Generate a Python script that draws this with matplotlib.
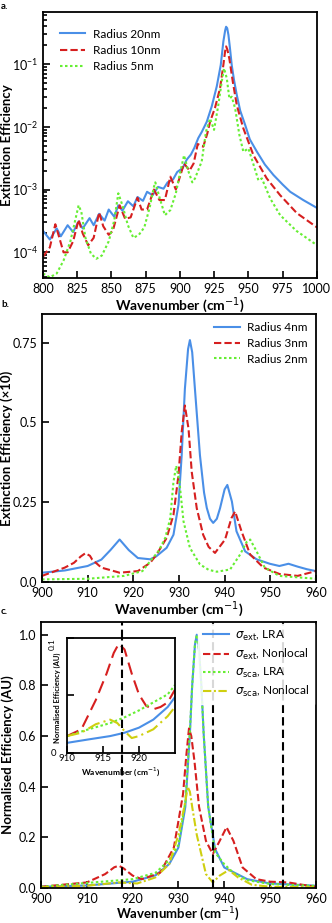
import matplotlib
matplotlib.use("Agg")
import matplotlib.pyplot as plt

plt.rcParams['font.family'] = ['Lato', 'DejaVu Sans']
plt.rcParams['mathtext.fontset'] = 'dejavusans'

BLUE = '#4a8fe7'
RED = '#d61f1f'
GREEN = '#66ee33'
YELLOW = '#cfcf10'

# ---- panel a: extinction efficiency, log scale ----
a_x20 = [800, 805, 810, 813, 818, 822, 826, 829, 834, 837, 841, 845, 848, 852, 855, 858,
         862, 866, 869, 873, 876, 880, 884, 888, 891, 895, 898, 902, 905, 908, 910.5, 913.4,
         916, 919.6, 923.2, 926.9, 929.8, 931.7, 933, 933.7, 934.5, 935.4, 936.5, 937.8,
         939.5, 941.5, 944, 947.6, 951, 956.2, 962, 968.3, 975, 980.5, 990, 1000]
a_r20 = [2.2e-4, 1.6e-4, 2.4e-4, 1.8e-4, 2.7e-4, 2.1e-4, 3.1e-4, 2.4e-4, 3.5e-4, 2.7e-4,
         4.1e-4, 3.2e-4, 4.8e-4, 3.7e-4, 5.6e-4, 4.6e-4, 6.5e-4, 5.4e-4, 7.6e-4, 6.6e-4,
         9.2e-4, 8.1e-4, 1.1e-3, 1.03e-3, 1.3e-3, 1.45e-3, 1.9e-3, 2.2e-3, 3.0e-3, 3.6e-3,
         4.6e-3, 6.6e-3, 8.3e-3, 1.2e-2, 2.1e-2, 4.4e-2, 9.6e-2, 0.227, 0.34, 0.39, 0.37,
         0.29, 0.18, 0.096, 0.055, 0.032, 0.018, 0.0107, 6.3e-3, 4.0e-3, 2.5e-3, 1.7e-3,
         1.2e-3, 9.2e-4, 6.8e-4, 5.1e-4]

a_x10 = [800, 805, 809, 811, 815, 818, 822, 826, 829, 833, 837, 841, 844, 848, 851, 856,
         860, 864, 869, 872, 876, 881, 885, 889, 893, 897, 900, 903, 907, 910, 913, 917,
         920, 922, 925.6, 929.3, 931.7, 933, 933.7, 934.6, 936.1, 938.6, 941.5, 946.3,
         953.7, 963.4, 973.2, 985.4, 1000]
a_r10 = [8.5e-5, 1.2e-4, 2.8e-4, 2.0e-4, 1.0e-4, 1.0e-4, 1.5e-4, 3.3e-4, 2.0e-4, 1.3e-4,
         1.7e-4, 4.3e-4, 2.6e-4, 1.9e-4, 2.2e-4, 5.6e-4, 3.4e-4, 3.6e-4, 7.4e-4, 4.8e-4,
         4.8e-4, 1.0e-3, 6.8e-4, 6.8e-4, 1.6e-3, 1.0e-3, 1.6e-3, 2.6e-3, 2.0e-3, 2.6e-3,
         5.3e-3, 4.8e-3, 7.8e-3, 1.2e-2, 2.0e-2, 4.1e-2, 9.6e-2, 0.16, 0.19, 0.17, 0.12,
         0.052, 0.022, 9.4e-3, 3.5e-3, 1.5e-3, 8.1e-4, 4.2e-4, 2.5e-4]

a_x5 = [800, 805, 810, 815, 820, 824, 826, 828, 831, 835, 839, 843, 848, 852, 855, 858,
        862, 866, 870, 874, 878, 881, 882, 885, 889, 893, 897, 900, 903, 906, 909, 911,
        915.9, 919, 922, 924.9, 928, 930.5, 932.2, 934.2, 936.1, 937.8, 940.3, 943.4,
        946.3, 950, 953.7, 957.3, 959.8, 965.9, 973.2, 985, 1000]
a_r5 = [4.6e-5, 4.0e-5, 4.6e-5, 7.4e-5, 1.5e-4, 3.6e-4, 5.6e-4, 4.4e-4, 1.7e-4, 9.5e-5,
        7.9e-5, 8.9e-5, 1.5e-4, 3.2e-4, 8.7e-4, 5.6e-4, 2.7e-4, 1.7e-4, 1.9e-4, 2.5e-4,
        5.3e-4, 1.1e-3, 1.3e-3, 7.6e-4, 3.9e-4, 4.7e-4, 8.7e-4, 1.8e-3, 3.5e-3, 2.0e-3,
        1.3e-3, 1.5e-3, 2.8e-3, 8.3e-3, 1.35e-2, 8.9e-3, 2.2e-2, 5.2e-2, 8.5e-2, 5.9e-2,
        2.8e-2, 3.0e-2, 1.96e-2, 7.4e-3, 4.0e-3, 4.5e-3, 2.5e-3, 1.4e-3, 1.5e-3, 7.2e-4,
        3.9e-4, 2.2e-4, 1.3e-4]

# ---- panel b: extinction efficiency (x10), linear ----
b_x4 = [900, 905, 910, 913, 915, 917, 919, 921, 923.7, 925, 927.3, 928.8, 929.9, 930.6,
        931.3, 932, 932.4, 932.9, 933.5, 934.6, 935.5, 936.1, 936.8, 937.5, 938.3, 939,
        940, 940.6, 941.6, 942.6, 944.5, 947, 949.9, 952, 954, 956, 958, 960]
b_r4 = [0.029, 0.036, 0.05, 0.07, 0.10, 0.133, 0.10, 0.075, 0.071, 0.08, 0.107, 0.148,
        0.242, 0.397, 0.605, 0.73, 0.758, 0.72, 0.605, 0.397, 0.28, 0.232, 0.198, 0.185,
        0.198, 0.231, 0.29, 0.304, 0.252, 0.159, 0.096, 0.071, 0.057, 0.05, 0.057, 0.048,
        0.04, 0.034]

b_x3 = [900, 905, 907, 908.5, 909.5, 910.5, 911, 913, 917, 921, 923.7, 925.1, 927.3, 928.8,
        929.9, 930.6, 931.3, 932.1, 932.8, 933.9, 935.3, 936.5, 937.9, 940.1, 941.5, 942.3,
        943.7, 945.6, 948.5, 952, 956, 960]
b_r3 = [0.019, 0.045, 0.06, 0.08, 0.09, 0.082, 0.07, 0.045, 0.029, 0.034, 0.06, 0.086,
        0.138, 0.21, 0.335, 0.47, 0.553, 0.48, 0.345, 0.231, 0.148, 0.11, 0.091, 0.133,
        0.2, 0.221, 0.159, 0.086, 0.045, 0.025, 0.019, 0.034]

b_x2 = [900, 910, 918, 922, 923.7, 925.5, 927, 928.1, 928.8, 929.4, 930.1, 931, 932.4,
        934.6, 936.5, 938.3, 941.2, 943.4, 944.8, 945.6, 947, 948.8, 952, 960]
b_r2 = [0.008, 0.010, 0.019, 0.034, 0.065, 0.096, 0.138, 0.20, 0.314, 0.364, 0.314, 0.19,
        0.107, 0.055, 0.038, 0.032, 0.039, 0.086, 0.125, 0.133, 0.096, 0.045, 0.019, 0.010]

# ---- panel c: normalised efficiency ----
c_x_ext_lra = [900, 910, 920, 925, 928, 930, 931.5, 932.5, 933, 933.6, 934, 934.4, 935,
               935.5, 936.5, 938, 940, 945, 950, 960]
c_ext_lra = [0.005, 0.01, 0.025, 0.05, 0.095, 0.16, 0.32, 0.61, 0.80, 0.96, 1.0, 0.96,
             0.80, 0.61, 0.32, 0.154, 0.081, 0.035, 0.018, 0.009]

c_x_ext_nl = [900, 910, 914, 916, 917, 918, 920, 922, 926, 929, 931, 931.7, 932.3, 932.8,
              933.5, 934.5, 936, 937.5, 939, 940.5, 942, 944, 947, 950, 954, 957, 960]
c_ext_nl = [0.005, 0.022, 0.055, 0.082, 0.088, 0.078, 0.049, 0.035, 0.06, 0.16, 0.37, 0.52,
            0.63, 0.60, 0.50, 0.32, 0.186, 0.134, 0.186, 0.24, 0.186, 0.081, 0.035, 0.025,
            0.022, 0.013, 0.005]

c_x_sca_lra = [900, 920, 925, 928, 930, 931.5, 932.5, 933, 933.6, 934, 934.4, 935, 935.5,
               936.5, 938, 940, 942, 945, 950, 960]
c_sca_lra = [0.005, 0.035, 0.06, 0.11, 0.17, 0.34, 0.62, 0.80, 0.96, 1.0, 0.96, 0.80, 0.61,
             0.32, 0.14, 0.094, 0.06, 0.031, 0.016, 0.008]

c_x_sca_nl = [900, 910, 917, 921, 925, 928, 930, 931.5, 932, 932.5, 933, 934, 936, 937.5,
              939, 941, 943, 946, 950, 960]
c_sca_nl = [0.003, 0.009, 0.022, 0.018, 0.042, 0.095, 0.21, 0.34, 0.40, 0.38, 0.32, 0.21,
            0.055, 0.022, 0.049, 0.071, 0.042, 0.013, 0.005, 0.003]

c_vlines = [917.6, 937.6, 952.9]

# inset of panel c
i_x = [910, 912, 914, 915.5, 916.5, 917.2, 918, 919, 920, 921, 922, 923, 924, 925]
i_ext_nl = [0.0147, 0.0206, 0.046, 0.069, 0.087, 0.095, 0.090, 0.069, 0.051, 0.041, 0.038,
            0.040, 0.044, 0.055]
i_x2 = [910, 913, 916, 918, 920, 922, 924, 925]
i_sca_lra = [0.0147, 0.0206, 0.026, 0.031, 0.037, 0.044, 0.051, 0.059]
i_ext_lra = [0.0088, 0.0118, 0.0147, 0.0176, 0.022, 0.029, 0.040, 0.0485]
i_x3 = [910, 912, 914, 916, 917, 918, 919, 920, 922, 924, 925]
i_sca_nl = [0.0147, 0.0176, 0.025, 0.029, 0.026, 0.019, 0.013, 0.0147, 0.0206, 0.032, 0.040]

fig = plt.figure(figsize=(3.32, 9.23), dpi=100)

def style(ax):
    for s in ax.spines.values():
        s.set_linewidth(1.3)
    ax.tick_params(which='both', direction='in', labelsize=9, width=1.2)
    ax.tick_params(which='major', length=5)
    ax.tick_params(which='minor', length=3)

lw = 1.5
DASH = (0, (3.5, 1.5))
DOT = (0, (1.2, 1.2))

# panel a
ax1 = fig.add_axes([0.1295, 0.6988, 0.825, 0.2882])
ax1.plot(a_x20, a_r20, color=BLUE, lw=lw, label='Radius 20nm')
ax1.plot(a_x10, a_r10, color=RED, lw=lw, ls=DASH, label='Radius 10nm')
ax1.plot(a_x5, a_r5, color=GREEN, lw=lw, ls=DOT, label='Radius 5nm')
ax1.set_yscale('log')
ax1.set_xlim(800, 1000)
ax1.set_ylim(3.9e-5, 0.67)
ax1.set_xticks([800, 825, 850, 875, 900, 925, 950, 975, 1000])
ax1.set_xlabel('Wavenumber (cm$^{-1}$)', fontsize=10, fontweight='bold', labelpad=0)
ax1.set_ylabel('Extinction Efficiency', fontsize=9.5, fontweight='bold')
ax1.yaxis.set_label_coords(-0.11, 0.5)
style(ax1)
ax1.legend(loc='upper left', frameon=False, fontsize=8.5, handlelength=2.2,
           borderaxespad=1.0, labelspacing=0.45, handletextpad=0.6)

# panel b
ax2 = fig.add_axes([0.1265, 0.3695, 0.825, 0.2904])
ax2.plot(b_x4, b_r4, color=BLUE, lw=lw, label='Radius 4nm')
ax2.plot(b_x3, b_r3, color=RED, lw=lw, ls=DASH, label='Radius 3nm')
ax2.plot(b_x2, b_r2, color=GREEN, lw=lw, ls=DOT, label='Radius 2nm')
ax2.set_xlim(900, 960)
ax2.set_ylim(0, 0.84)
ax2.set_yticks([0, 0.25, 0.5, 0.75])
ax2.set_yticklabels(['0.0', '0.25', '0.5', '0.75'])
ax2.set_xlabel('Wavenumber (cm$^{-1}$)', fontsize=10, fontweight='bold', labelpad=0)
ax2.set_ylabel('Extinction Efficiency (\u00d710)', fontsize=9.5, fontweight='bold')
ax2.yaxis.set_label_coords(-0.105, 0.5)
style(ax2)
ax2.legend(loc='upper right', frameon=False, fontsize=8.5, handlelength=2.2,
           borderaxespad=0.3, labelspacing=0.4, handletextpad=0.6)

# panel c
ax3 = fig.add_axes([0.1235, 0.0379, 0.828, 0.2882])
ax3.plot(c_x_ext_lra, c_ext_lra, color=BLUE, lw=lw, label=r'$\sigma_{\mathrm{ext}}$, LRA')
ax3.plot(c_x_ext_nl, c_ext_nl, color=RED, lw=lw, ls=DASH, label=r'$\sigma_{\mathrm{ext}}$, Nonlocal')
ax3.plot(c_x_sca_lra, c_sca_lra, color=GREEN, lw=lw, ls=DOT, label=r'$\sigma_{\mathrm{sca}}$, LRA')
ax3.plot(c_x_sca_nl, c_sca_nl, color=YELLOW, lw=lw, ls=(0, (4, 1.2, 1, 1.2)),
         label=r'$\sigma_{\mathrm{sca}}$, Nonlocal')
for v in c_vlines:
    ax3.axvline(v, color='black', lw=1.5, ls=(0, (4, 2)), zorder=3)
ax3.set_xlim(900, 960)
ax3.set_ylim(0, 1.05)
ax3.set_yticks([0, 0.2, 0.4, 0.6, 0.8, 1.0])
ax3.set_yticklabels(['0.0', '0.2', '0.4', '0.6', '0.8', '1.0'])
ax3.set_xlabel('Wavenumber (cm$^{-1}$)', fontsize=9.5, fontweight='bold', labelpad=0)
ax3.set_ylabel('Normalised Efficiency (AU)', fontsize=9.5, fontweight='bold')
ax3.yaxis.set_label_coords(-0.1, 0.5)
style(ax3)
leg = ax3.legend(loc='upper right', frameon=True, fontsize=8.5, handlelength=2.2,
                 borderaxespad=0.15, labelspacing=0.35, handletextpad=0.5, fancybox=False)
leg.get_frame().set_edgecolor('white')
leg.get_frame().set_alpha(0.85)
leg.set_zorder(5)

# inset
ax4 = fig.add_axes([0.2018, 0.1842, 0.325, 0.1246])
ax4.plot(i_x2, i_ext_lra, color=BLUE, lw=lw)
ax4.plot(i_x, i_ext_nl, color=RED, lw=lw, ls=(0, (6, 3)))
ax4.plot(i_x2, i_sca_lra, color=GREEN, lw=lw, ls=DOT)
ax4.plot(i_x3, i_sca_nl, color=YELLOW, lw=lw, ls=(0, (6, 2, 1, 2)))
ax4.axvline(c_vlines[0], color='black', lw=1.5, ls=(0, (4, 2)))
ax4.set_xlim(910, 925)
ax4.set_ylim(0, 0.1)
ax4.set_xticks([910, 915, 920])
ax4.set_yticks([0, 0.05, 0.1])
ax4.set_yticklabels(['0', '', '0.1'])
style(ax4)
ax4.tick_params(labelsize=7, pad=1)
ax4.tick_params(axis='y', pad=8)
lab01 = ax4.get_yticklabels()[2]
lab01.set_rotation(90)
lab01.set_va('top')
lab01.set_fontsize(6)
ax4.set_xlabel('Wavenumber (cm$^{-1}$)', fontsize=6, fontweight='bold', labelpad=1)
ax4.set_ylabel('Normalised Efficiency (AU)', fontsize=5.4, fontweight='bold')
ax4.yaxis.set_label_coords(-0.06, 0.48)
ax4.patch.set_facecolor('white')
ax4.set_zorder(6)

# panel labels
fig.text(0.003, 0.998, 'a.', fontsize=7, fontweight='bold', va='top')
fig.text(0.003, 0.675, 'b.', fontsize=7, fontweight='bold', va='top')
fig.text(0.003, 0.342, 'c.', fontsize=7, fontweight='bold', va='top')

fig.savefig('out.png', dpi=100)
